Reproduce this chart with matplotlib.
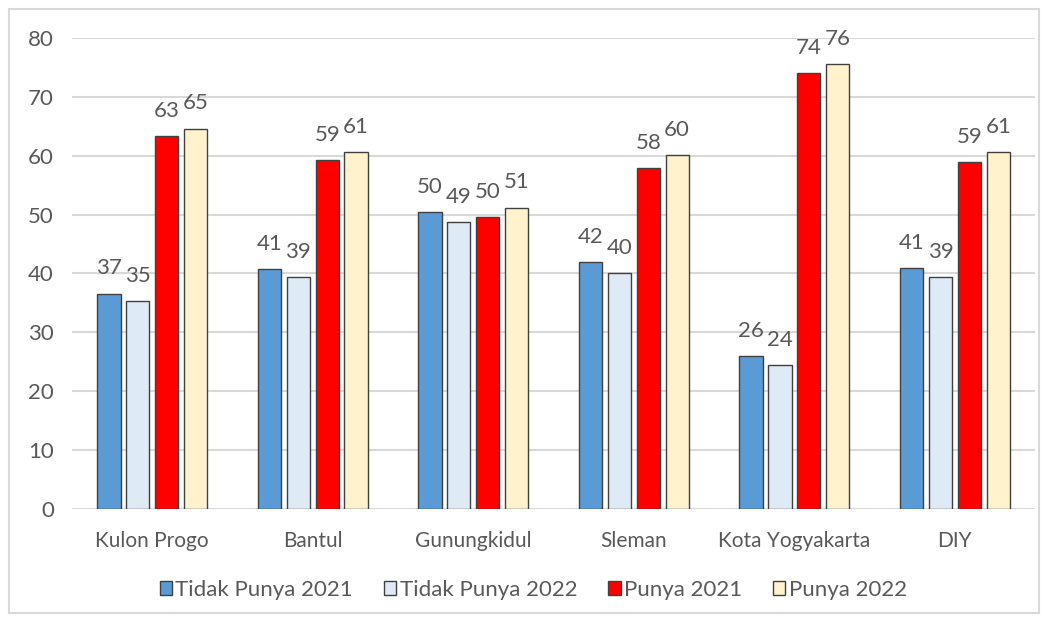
import numpy as np
import matplotlib.pyplot as plt
from matplotlib.patches import Rectangle

# Data
regions = ['Kulon Progo', 'Bantul', 'Gunungkidul', 'Sleman', 'Kota Yogyakarta', 'DIY']
tidak_2021 = [36.6, 40.7, 50.4, 41.9, 26.0, 40.9]
tidak_2022 = [35.3, 39.4, 48.7, 40.1, 24.4, 39.4]
punya_2021 = [63.3, 59.2, 49.6, 57.9, 74.0, 58.9]
punya_2022 = [64.6, 60.6, 51.2, 60.1, 75.6, 60.6]

series = [('Tidak Punya 2021', tidak_2021, '#5b9bd5'),
          ('Tidak Punya 2022', tidak_2022, '#deebf7'),
          ('Punya 2021', punya_2021, '#ff0000'),
          ('Punya 2022', punya_2022, '#fff2cc')]

plt.rcParams['font.family'] = ['Lato', 'DejaVu Sans']
text_color = '#595959'

fig = plt.figure(figsize=(10.48, 6.22), dpi=100)
ax = fig.add_axes([0.0687, 0.1817, 0.919, 0.7572])

# light frame around the chart
fig.patches.append(Rectangle((0.009, 0.014), 0.982, 0.971, transform=fig.transFigure,
                             fill=False, edgecolor='#d9d9d9', linewidth=1.5))

x = np.arange(len(regions))
w = 0.145
step = 0.18
for i, (name, vals, col) in enumerate(series):
    pos = x + (i - 1.5) * step
    bars = ax.bar(pos, vals, width=w, color=col, edgecolor='#404040',
                  linewidth=1, label=name, zorder=3)
    for b, v in zip(bars, vals):
        ax.text(b.get_x() + b.get_width() / 2, v + 2.6, f'{v:.0f}',
                ha='center', va='bottom', fontsize=16, color=text_color)

ax.set_ylim(0, 80)
ax.set_xlim(-0.5, len(regions) - 0.5)
ax.set_yticks(range(0, 81, 10))
ax.set_xticks(x)
ax.set_xticklabels(regions, fontsize=15)
ax.tick_params(axis='y', labelsize=16)
ax.tick_params(axis='both', length=0, labelcolor=text_color)
ax.tick_params(axis='x', pad=16)
ax.tick_params(axis='y', pad=13)
ax.grid(axis='y', color='#d9d9d9', linewidth=1.5, zorder=0)
for s in ax.spines.values():
    s.set_visible(False)

leg = ax.legend(loc='center', bbox_to_anchor=(0.479, -0.172), ncol=4, frameon=False,
                fontsize=16, handlelength=0.55, handleheight=0.55, handletextpad=0.15,
                columnspacing=1.4)
for t in leg.get_texts():
    t.set_color(text_color)

fig.savefig('out.png', dpi=100)
